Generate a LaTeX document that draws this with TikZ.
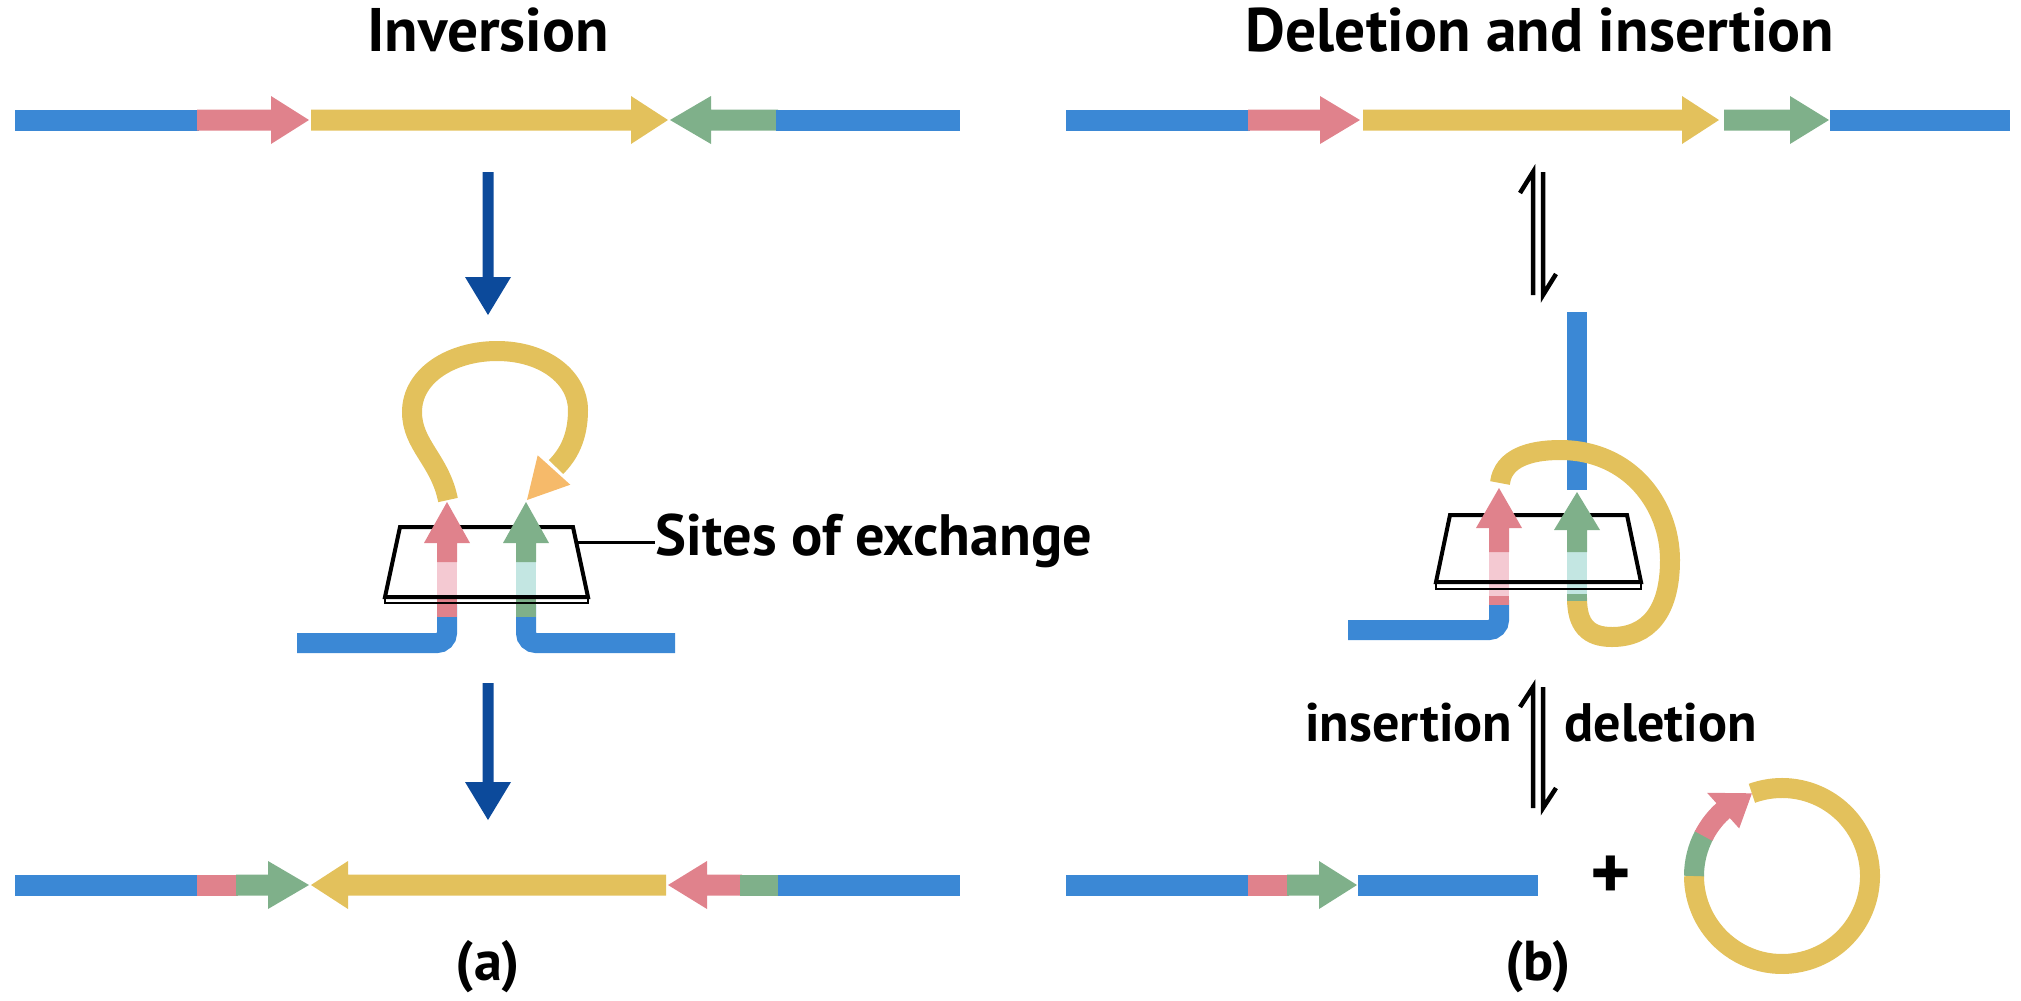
\documentclass[tikz,border=0pt]{standalone}
\usepackage{fontspec}
\setmainfont{PT Sans}
\definecolor{dnablue}{HTML}{3B88D5}
\definecolor{dnapink}{HTML}{E0828C}
\definecolor{dnayellow}{HTML}{E3C15C}
\definecolor{dnagreen}{HTML}{7FB08A}
\definecolor{fadepink}{HTML}{F4C9D2}
\definecolor{fadeteal}{HTML}{C3E6E2}
\definecolor{headorange}{HTML}{F6BA6A}
\definecolor{flowblue}{HTML}{0C4A9B}
% horizontal DNA pieces: colour, x1, x2, y
\newcommand\dnabar[4]{\fill[#1] (#2,#4-10.5) rectangle (#3,#4+10.5);}
% horizontal DNA arrow: colour, tail x, head base x, tip x, y
\newcommand\dnaarr[5]{\fill[#1] (#2,#5-10.5) -- (#3,#5-10.5) -- (#3,#5-24) -- (#4,#5) -- (#3,#5+24) -- (#3,#5+10.5) -- (#2,#5+10.5) -- cycle;}
% vertical DNA pieces: colour, y1, y2, x
\newcommand\dnavbar[4]{\fill[#1] (#4-10,#2) rectangle (#4+10,#3);}
% vertical DNA arrow: colour, tail y, head base y, tip y, x
\newcommand\dnavarr[5]{\fill[#1] (#5-10,#2) -- (#5-10,#3) -- (#5-23,#3) -- (#5,#4) -- (#5+23,#3) -- (#5+10,#3) -- (#5+10,#2) -- cycle;}
% reaction arrow pointing down: x, top y, tip y
\newcommand\flowdown[3]{\fill[flowblue] (#1-5.5,#2) -- (#1-5.5,#3-38) -- (#1-23,#3-38) -- (#1,#3) -- (#1+23,#3-38) -- (#1+5.5,#3-38) -- (#1+5.5,#2) -- cycle;}
\begin{document}
\begin{tikzpicture}[x=0.1mm,y=-0.1mm,
  titlefont/.style={font=\fontsize{17.5}{20}\selectfont\bfseries, inner sep=0pt},
  partfont/.style={font=\fontsize{16}{19}\selectfont\bfseries, inner sep=0pt},
  labelfont/.style={font=\fontsize{15.4}{18}\selectfont\bfseries, inner sep=0pt},
  sitefont/.style={font=\fontsize{16.6}{19}\selectfont\bfseries, inner sep=0pt},
  strand/.style={line width=2mm},
  plane/.style={line width=0.4mm, line join=miter},
  planeedge/.style={line width=0.25mm},
  harpoon/.style={line width=0.45mm}]
\useasboundingbox (0,0) rectangle (2021,1000);

% ---------- titles ----------
\node[titlefont] (tinv) at (488,30) {Inversion};
\node[titlefont] (tdel) at (1540,30) {Deletion and insertion};

% ---------- (a) inversion: starting molecule ----------
\dnabar{dnablue}{15}{199}{120}
\dnaarr{dnapink}{197}{271}{309}{120}
\dnaarr{dnayellow}{311}{631}{668}{120}
\dnaarr{dnagreen}{778}{711}{670}{120}
\dnabar{dnablue}{776}{960}{120}

\flowdown{488}{172}{315}

% synapsis: blue arms
\draw[dnablue, strand, rounded corners=1mm] (297,643) -- (447,643) -- (447,605);
\draw[dnablue, strand, rounded corners=1mm] (675,643) -- (526,643) -- (526,605);
% sites below the plane
\dnavbar{dnapink}{617}{596}{447}
\dnavbar{fadepink}{596}{560}{447}
\dnavbar{dnagreen}{617}{596}{526}
\dnavbar{fadeteal}{596}{560}{526}
% exchange plane
\draw[plane] (400,527) -- (573,527) -- (588,597) -- (385,597) -- cycle;
\draw[planeedge] (385,597) -- (385,603) -- (588,603) -- (588,597);
% sites above the plane
\dnavarr{dnapink}{562}{543}{502}{447}
\dnavarr{dnagreen}{562}{543}{502}{526}
% looped-out segment
\draw[dnayellow, strand] (448,500) .. controls (440,460) and (412,445) .. (412,412)
  .. controls (412,375) and (452,351) .. (497,351)
  .. controls (545,351) and (578,378) .. (578,410)
  .. controls (578,438) and (568,455) .. (556,467);
\fill[headorange] (570.3,484.7) -- (527,500) -- (537.7,455.3) -- cycle;
% label
\coordinate (siteedge) at (576,542);
\node[sitefont, anchor=base west] (sites) at (655,555) {Sites of exchange};
\draw[line width=0.3mm] (siteedge) -- (sites.west |- siteedge);

\flowdown{488}{683}{820}

% product
\dnabar{dnablue}{15}{199}{885}
\dnabar{dnapink}{197}{238}{885}
\dnaarr{dnagreen}{236}{268}{309}{885}
\dnaarr{dnayellow}{666}{348}{311}{885}
\dnaarr{dnapink}{742}{707}{668}{885}
\dnabar{dnagreen}{740}{780}{885}
\dnabar{dnablue}{778}{960}{885}

\node[partfont] (pa) at (488,967) {(a)};

% ---------- (b) deletion and insertion ----------
\dnabar{dnablue}{1066}{1250}{120}
\dnaarr{dnapink}{1248}{1320}{1360}{120}
\dnaarr{dnayellow}{1363}{1682}{1719}{120}
\dnaarr{dnagreen}{1724}{1790}{1829}{120}
\dnabar{dnablue}{1830}{2010}{120}

% equilibrium harpoons
\draw[harpoon] (1533,295) -- (1533,172) -- (1520,193);
\draw[harpoon] (1543,172) -- (1543,295) -- (1556,274);

% synapsis
\dnavbar{dnablue}{312}{490}{1577}
\draw[dnablue, strand, rounded corners=1mm] (1348,630) -- (1499,630) -- (1499,600);
\draw[dnayellow, strand] (1500,483) .. controls (1503,458) and (1530,450) .. (1560,450)
  .. controls (1630,450) and (1670,505) .. (1670,560)
  .. controls (1670,612) and (1648,637) .. (1612,637)
  .. controls (1588,637) and (1577,625) .. (1577,598);
\dnavbar{dnapink}{605}{596}{1499}
\dnavbar{fadepink}{596}{550}{1499}
\dnavbar{dnagreen}{601}{594}{1577}
\dnavbar{fadeteal}{594}{550}{1577}
\draw[plane] (1450,515) -- (1627,515) -- (1641,582) -- (1436,582) -- cycle;
\draw[planeedge] (1436,582) -- (1436,589) -- (1641,589) -- (1641,582);
\dnavarr{dnapink}{552}{528}{488}{1499}
\dnavarr{dnagreen}{552}{530}{492}{1577}

% second equilibrium with labels
\draw[harpoon] (1533,808) -- (1533,687) -- (1520,707);
\draw[harpoon] (1543,687) -- (1543,808) -- (1556,788);
\node[labelfont, anchor=base east] (ins) at (1513,741) {insertion};
\node[labelfont, anchor=base west] (del) at (1564,741) {deletion};

% products
\dnabar{dnablue}{1066}{1250}{885}
\dnabar{dnapink}{1248}{1289}{885}
\dnaarr{dnagreen}{1287}{1319}{1357}{885}
\dnabar{dnablue}{1358}{1538}{885}

\node[font=\fontsize{22}{24}\selectfont\bfseries, inner sep=0pt] (plus) at (1611,878) {+};

\begin{scope}[shift={(1782,876)}, yscale=-1]
  \draw[dnayellow, strand] (110:88) arc[start angle=110, end angle=-180, radius=88];
  \draw[dnagreen, strand] (180:88) arc[start angle=180, end angle=152, radius=88];
  \draw[dnapink, strand] (153:88) arc[start angle=153, end angle=130, radius=88];
  \fill[dnapink] (132:64) -- (132:112) -- (110:88) -- cycle;
\end{scope}

\node[partfont] (pb) at (1538,967) {(b)};
\end{tikzpicture}
\end{document}
